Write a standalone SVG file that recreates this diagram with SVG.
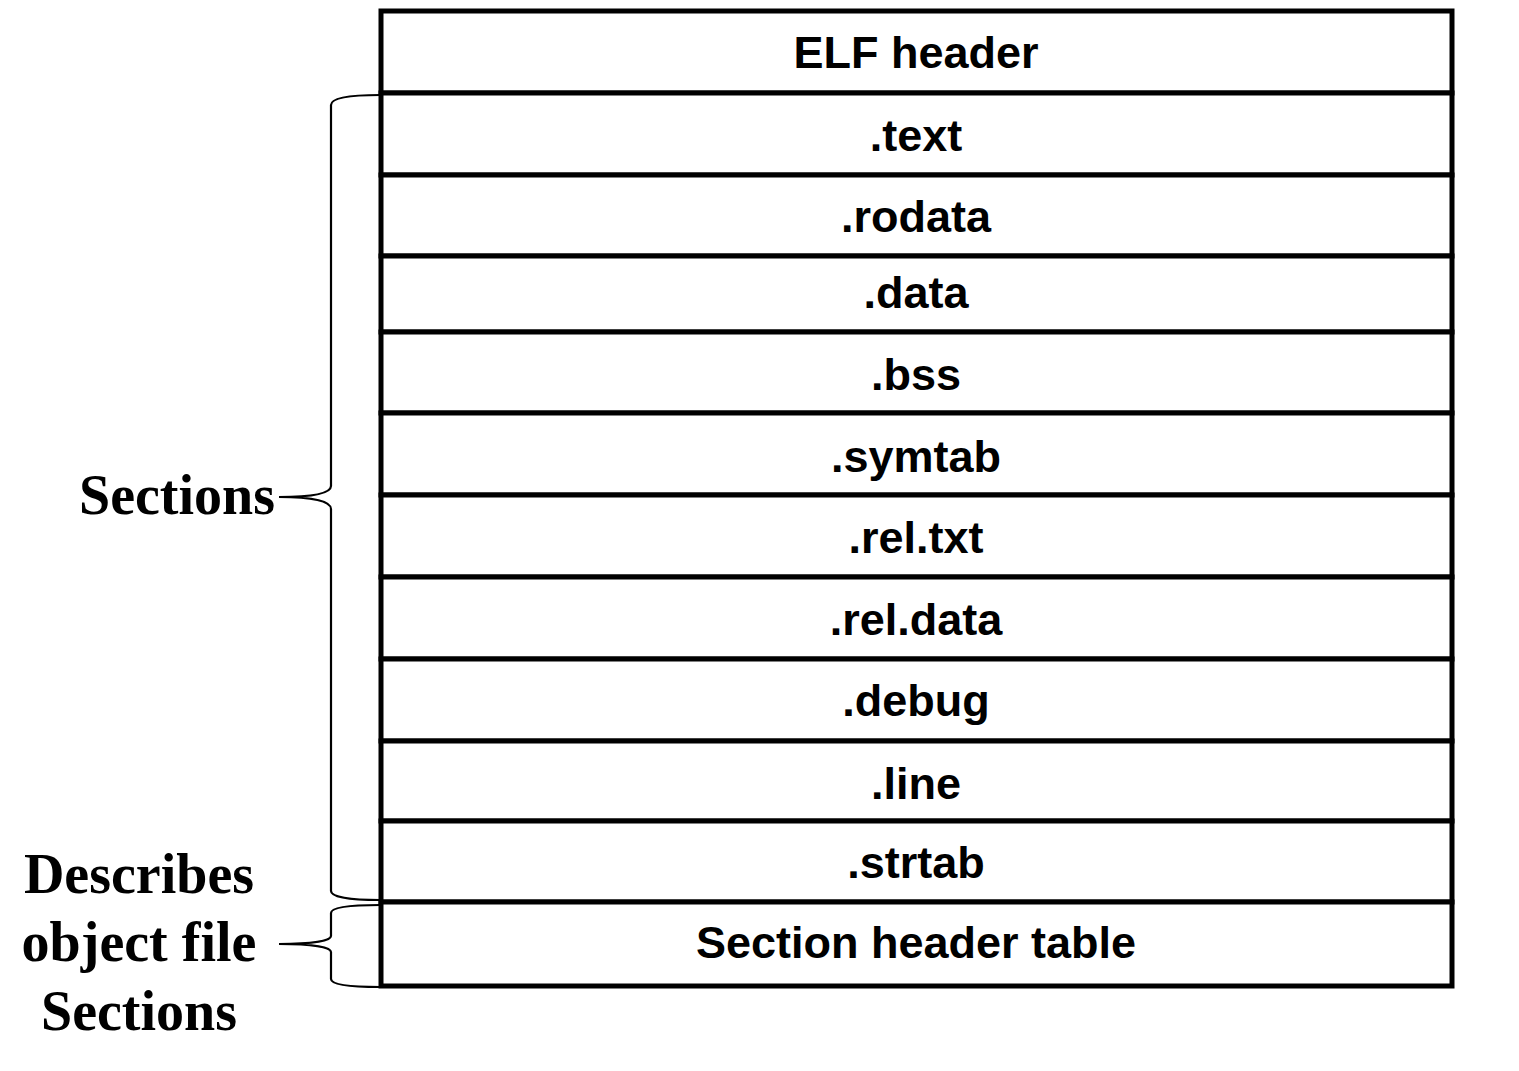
<svg xmlns="http://www.w3.org/2000/svg" width="1519" height="1071" viewBox="0 0 1519 1071">
  <style>
    .cell { fill: #fff; stroke: #000; stroke-width: 5; }
    .lbl { font-family: "Liberation Sans", Arial, sans-serif; font-weight: bold; font-size: 45px; text-anchor: middle; dominant-baseline: central; fill: #000; }
    .side { font-family: "Liberation Serif", "Times New Roman", serif; font-weight: bold; font-size: 56px; text-anchor: middle; fill: #000; }
    .brace { fill: none; stroke: #000; stroke-width: 2.2; }
  </style>
  <rect width="1519" height="1071" fill="#fff"/>

  <!-- ELF object file layout: one row per part -->
  <g id="elf-header"><rect class="cell" x="381" y="11" width="1071" height="82"/><text class="lbl" x="916" y="52">ELF header</text></g>
  <g id="text"><rect class="cell" x="381" y="93" width="1071" height="82"/><text class="lbl" x="916" y="135">.text</text></g>
  <g id="rodata"><rect class="cell" x="381" y="175" width="1071" height="81"/><text class="lbl" x="916" y="216">.rodata</text></g>
  <g id="data"><rect class="cell" x="381" y="256" width="1071" height="76"/><text class="lbl" x="916" y="292">.data</text></g>
  <g id="bss"><rect class="cell" x="381" y="332" width="1071" height="81"/><text class="lbl" x="916" y="374">.bss</text></g>
  <g id="symtab"><rect class="cell" x="381" y="413" width="1071" height="82"/><text class="lbl" x="916" y="456">.symtab</text></g>
  <g id="rel-txt"><rect class="cell" x="381" y="495" width="1071" height="82"/><text class="lbl" x="916" y="537">.rel.txt</text></g>
  <g id="rel-data"><rect class="cell" x="381" y="577" width="1071" height="82"/><text class="lbl" x="916" y="619">.rel.data</text></g>
  <g id="debug"><rect class="cell" x="381" y="659" width="1071" height="82"/><text class="lbl" x="916" y="700">.debug</text></g>
  <g id="line"><rect class="cell" x="381" y="741" width="1071" height="80"/><text class="lbl" x="916" y="783">.line</text></g>
  <g id="strtab"><rect class="cell" x="381" y="821" width="1071" height="81"/><text class="lbl" x="916" y="862">.strtab</text></g>
  <g id="section-header-table"><rect class="cell" x="381" y="902" width="1071" height="84"/><text class="lbl" x="916" y="942">Section header table</text></g>

  <!-- braces grouping the rows -->
  <g id="connectors">
    <path class="brace" d="M380,95 C350,95 331,98 331,105 L331,486 C331,494 312,497 279,497 C312,497 331,501 331,509 L331,891 C331,897 350,900 380,900"/>
    <path class="brace" d="M380,905 C350,905 331,907 331,913 L331,936 C331,941 312,944 279,944 C312,944 331,947 331,952 L331,979 C331,985 350,987 380,987"/>
  </g>

  <!-- brace labels -->
  <g id="label-sections"><text class="side" x="177" y="514">Sections</text></g>
  <g id="label-describes">
    <text class="side" x="139" y="893">Describes</text>
    <text class="side" x="139" y="961">object file</text>
    <text class="side" x="139" y="1030">Sections</text>
  </g>
</svg>
